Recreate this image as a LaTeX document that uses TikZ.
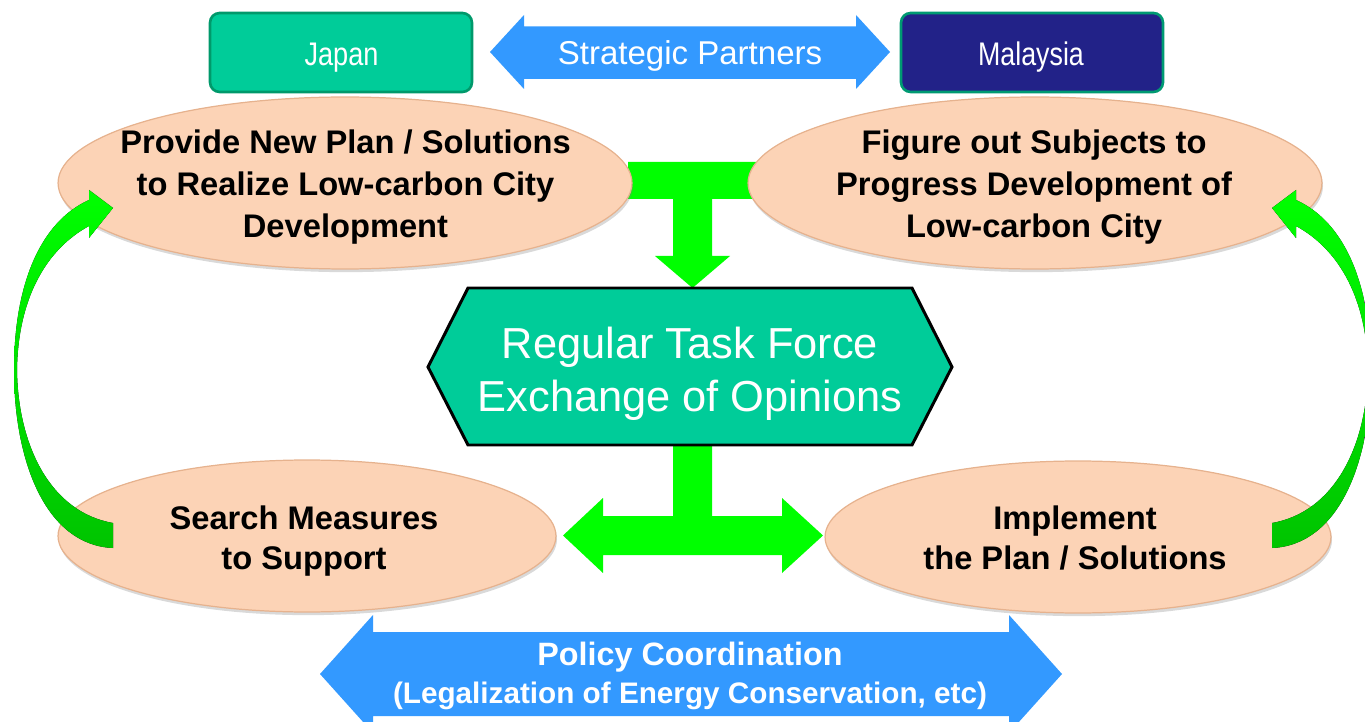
\documentclass[tikz,border=0pt]{standalone}
\usepackage{fontspec}
\setmainfont{Liberation Sans}
\usetikzlibrary{shapes.geometric,shadows}
\definecolor{jgreen}{HTML}{00CC99}
\definecolor{jborder}{HTML}{00996B}
\definecolor{mnavy}{HTML}{222288}
\definecolor{mborder}{HTML}{009A72}
\definecolor{pblue}{HTML}{3399FF}
\definecolor{bgreen}{HTML}{00FF00}
\definecolor{dgreen}{HTML}{00C400}
\definecolor{peach}{HTML}{FCD3B6}
\definecolor{peachedge}{HTML}{E6B28E}
\begin{document}
\begin{tikzpicture}[x=0.02cm,y=-0.02cm,
  blob/.style={ellipse, fill=peach, draw=peachedge, line width=0.7pt, inner sep=0pt,
    drop shadow={opacity=0.3, shadow xshift=0.6pt, shadow yshift=-1.8pt}},
  blobtext/.style={align=center, inner sep=0pt, font=\fontsize{18.6pt}{22.76pt}\selectfont\bfseries},
  blobtextwide/.style={align=center, inner sep=0pt, font=\fontsize{18.6pt}{23.9pt}\selectfont\bfseries},
  country/.style={rectangle, rounded corners=5.5pt, line width=1.5pt, minimum width=5.24cm, minimum height=1.58cm, inner sep=0pt},
  countrytext/.style={anchor=base, inner sep=0pt, text=white, font=\fontsize{18.6pt}{20pt}\selectfont},
  blockblue/.style={fill=pblue},
  blockgreen/.style={fill=bgreen},
  curved/.style={top color=bgreen, bottom color=dgreen, draw=none},
  hexbox/.style={fill=jgreen, draw=black, line width=1.7pt, line join=miter},
  whitetext/.style={inner sep=0pt, text=white}
]
\useasboundingbox (0,0) rectangle (1365,722);
\clip (0,0) rectangle (1365,722);

% top green T connector (behind ellipses)
\fill[blockgreen] (628,162) -- (762,162) -- (762,199) -- (712,199) -- (712,256) -- (730,256)
  -- (692.5,288) -- (655,256) -- (673,256) -- (673,199) -- (628,199) -- cycle;

% ellipses
\node[blob, minimum width=11.48cm, minimum height=3.44cm] (tl) at (345,183) {};
\node[blob, minimum width=11.48cm, minimum height=3.44cm] (tr) at (1035,183) {};
\node[blob, minimum width=9.96cm, minimum height=3.04cm] (bl) at (307,536) {};
\node[blob, minimum width=10.12cm, minimum height=3.04cm] (br) at (1078,537) {};

\node[blobtextwide] (tltext) at (345.5,186.6) {Provide New Plan / Solutions\\to Realize Low-carbon City\\Development};
\node[blobtextwide] (trtext) at (1034,186.6) {Figure out Subjects to\\Progress Development of\\Low-carbon City};
\node[blobtext] (bltext) at (304,541) {Search Measures\\to Support};
\node[blobtext] (brtext) at (1075,537.6) {Implement\\the Plan / Solutions};

% country boxes
\node[country, fill=jgreen, draw=jborder] (japan) at (341,52.5) {};
\node[country, fill=mnavy, draw=mborder] (malaysia) at (1032,52.5) {};
\node[countrytext] (japantext) at (341.5,66) {\scalebox{0.83}[1]{Japan}};
\node[countrytext] (malaysiatext) at (1031,66) {\scalebox{0.82}[1]{Malaysia}};

% strategic partners double arrow
\fill[blockblue] (490,52) -- (524,15) -- (524,26.5) -- (856,26.5) -- (856,15) -- (890,52)
  -- (856,89) -- (856,79) -- (524,79) -- (524,89) -- cycle;
\node[whitetext, anchor=base, font=\fontsize{18.8pt}{20pt}\selectfont] (strat) at (690,65) {Strategic Partners};

% curved arrows
\fill[curved] (113,548) .. controls (45,545) and (14,460) .. (14,370)
  .. controls (14,285) and (40,222) .. (89,200) -- (89,190) -- (113,208) -- (89,238) -- (89,226)
  .. controls (45,250) and (18,300) .. (17,370)
  .. controls (18,445) and (50,512) .. (113,523) -- cycle;
\fill[curved] (1272,548) .. controls (1340,545) and (1371,460) .. (1371,370)
  .. controls (1371,285) and (1345,222) .. (1296,200) -- (1296,190) -- (1272,208) -- (1296,238) -- (1296,226)
  .. controls (1340,250) and (1367,300) .. (1368,370)
  .. controls (1367,445) and (1335,512) .. (1272,523) -- cycle;

% bottom green T connector
\fill[blockgreen] (673,440) -- (712,440) -- (712,516) -- (782,516) -- (782,498) -- (823,535.5)
  -- (782,573) -- (782,555) -- (603,555) -- (603,573) -- (563,535.5) -- (603,498)
  -- (603,516) -- (673,516) -- cycle;

% hexagon
\draw[hexbox] (428,367) -- (468,288) -- (912,288) -- (952,367) -- (912,445) -- (468,445) -- cycle;
\node[whitetext, align=center, font=\fontsize{24.7pt}{30.2pt}\selectfont] (hex) at (690,373.5) {Regular Task Force\\Exchange of Opinions};

% policy coordination double arrow
\fill[blockblue] (320,674) -- (373,615) -- (373,632) -- (1009,632) -- (1009,615) -- (1062,674)
  -- (1009,733) -- (1009,716) -- (373,716) -- (373,733) -- cycle;
\node[whitetext, anchor=base, font=\fontsize{18.4pt}{20pt}\selectfont\bfseries] (policy) at (690,665) {Policy Coordination};
\node[whitetext, anchor=base, font=\fontsize{16.9pt}{20pt}\selectfont\bfseries] (legal) at (690,703) {(Legalization of Energy Conservation, etc)};
\end{tikzpicture}
\end{document}
